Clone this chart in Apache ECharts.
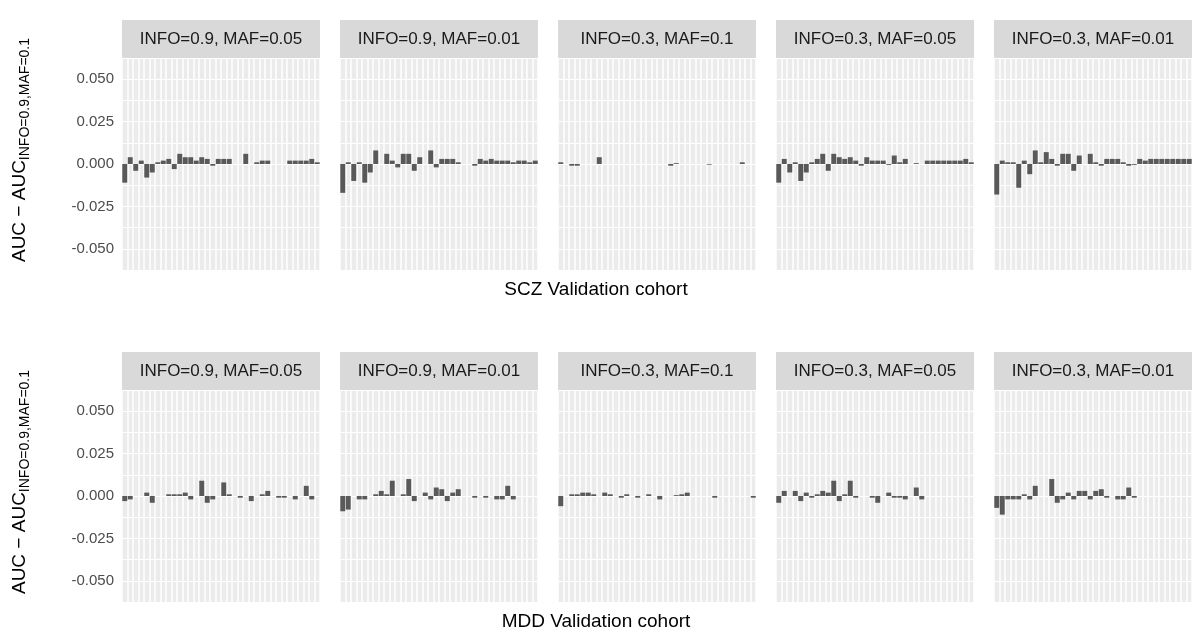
<!DOCTYPE html>
<html>
<head>
<meta charset="utf-8">
<script src="https://cdn.jsdelivr.net/npm/echarts@6/dist/echarts.min.js"></script>
<style>html,body{margin:0;background:#fff}#c{width:1192px;height:639px}</style>
</head>
<body>
<div id="c"></div>
<script>
"use strict";
var facets = ['INFO=0.9, MAF=0.05', 'INFO=0.9, MAF=0.01', 'INFO=0.3, MAF=0.1', 'INFO=0.3, MAF=0.05', 'INFO=0.3, MAF=0.01'];
var cohorts = ['SCZ Validation cohort', 'MDD Validation cohort'];
var yTicks = [-0.05, -0.025, 0, 0.025, 0.05];

var scz1 = [-0.011,0.004,-0.004,0.002,-0.008,-0.005,0.001,0.002,0.003,-0.003,0.006,0.004,0.004,0.002,0.004,0.003,-0.001,0.003,0.003,0.003,0,0,0.006,0,0.001,0.002,0.002,0,0,0,0.002,0.002,0.002,0.002,0.003,0.001];
var scz2 = [-0.017,0.001,-0.010,0.001,-0.011,-0.005,0.008,0,0.006,0.002,-0.002,0.006,0.006,-0.004,0.004,0,0.008,-0.002,0.003,0.003,0.003,0.001,0,0,-0.001,0.003,0.002,0.003,0.002,0.002,0.002,0.001,0.002,0.002,0.001,0.002];
var scz3 = [0.001,0,-0.001,-0.001,0,0,0,0.004,0,0,0,0,0,0,0,0,0,0,0,0,-0.001,0.0005,0,0,0,0,0,-0.0004,0,0,0,0,0,0.001,0,0];
var scz4 = [-0.011,0.003,-0.005,0.001,-0.010,-0.005,0.001,0.003,0.006,-0.004,0.006,0.004,0.003,0.004,0.002,-0.001,0.004,0.002,0.002,0.002,-0.0005,0.005,0.001,0.003,0,0.0005,0,0.002,0.002,0.002,0.002,0.002,0.002,0.002,0.003,0.001];
var scz5 = [-0.018,0.002,0.001,0.001,-0.014,0.002,-0.006,0.008,0.001,0.007,0.003,-0.001,0.006,0.006,-0.004,0.005,0,0.006,0.001,-0.001,0.003,0.003,0.003,0.001,-0.001,-0.0005,0.003,0.002,0.003,0.003,0.003,0.003,0.003,0.003,0.003,0.003];
var mdd1 = [-0.003,-0.002,0,0,0.002,-0.004,0,0,0.001,0.001,0.001,0.002,-0.002,0,0.009,-0.004,-0.002,0,0.008,0.001,0,-0.001,0,-0.003,0,0.001,0.003,0,-0.001,-0.001,0,-0.002,0,0.006,-0.002,0];
var mdd2 = [-0.009,-0.008,0,-0.002,-0.002,0,0.001,0.003,0.001,0.009,0,0.001,0.010,-0.003,0,0.002,-0.002,0.005,0.004,-0.003,0.002,0.004,0,0,-0.001,0,-0.001,0,-0.002,-0.002,0.006,-0.002,0,0,0,0];
var mdd3 = [-0.006,0,0.001,0.001,0.002,0.002,0.001,0,0.002,0.001,0,-0.001,0.001,0,-0.001,0,0.001,0,-0.002,0,0,0.0005,0.001,0.002,0,0,0,0,-0.001,0,0,0,0,0,0,-0.001];
var mdd4 = [-0.004,0.003,0,0.003,-0.003,0.002,-0.001,0.001,0.003,0.002,0.009,-0.003,0.001,0.009,-0.001,0,0,-0.001,-0.004,0,0.002,-0.001,-0.001,-0.002,0,0.005,-0.002,0,0,0,0,0,0,0,0,0];
var mdd5 = [-0.007,-0.011,-0.002,-0.002,-0.002,0.001,-0.002,0.006,0,0,0.010,-0.004,-0.002,0.002,-0.002,0.003,0.003,-0.002,0.003,0.004,-0.001,0,-0.002,-0.002,0.005,-0.001,0,0,0,0,0,0,0,0,0,0];
var rows = [[scz1, scz2, scz3, scz4, scz5], [mdd1, mdd2, mdd3, mdd4, mdd5]];

var lefts = [122, 340, 558, 776, 994];
var panelW = 198;
var rowTop = [58, 390];
var panelH = 212;
var stripH = 38;

var grids = [], xAxes = [], yAxes = [], series = [], graphics = [];
rows.forEach(function (row, r) {
  row.forEach(function (vals, f) {
    var i = grids.length;
    var cats = vals.map(function (v, k) { return String(k + 1); });
    grids.push({left: lefts[f], top: rowTop[r], width: panelW, height: panelH,
      show: true, backgroundColor: '#EBEBEB', borderWidth: 0});
    xAxes.push({type: 'category', gridIndex: i, data: cats,
      axisLine: {show: false}, axisTick: {show: false}, axisLabel: {show: false},
      splitLine: {show: true, interval: 0, lineStyle: {color: '#fff', width: 1.5}}});
    yAxes.push({type: 'value', gridIndex: i, min: -0.0625, max: 0.0625, interval: 0.0125,
      axisLine: {show: false},
      axisTick: {show: false},
      splitLine: {show: true, lineStyle: {color: '#fff', width: 1}},
      axisLabel: {show: f === 0, color: '#4D4D4D', fontSize: 15, margin: 8, fontFamily: 'Liberation Sans',
        formatter: function (v) {
          for (var t = 0; t < yTicks.length; t++) {
            if (Math.abs(v - yTicks[t]) < 1e-6) return yTicks[t].toFixed(3);
          }
          return '';
        }}});
    series.push({type: 'bar', xAxisIndex: i, yAxisIndex: i, data: vals,
      barCategoryGap: '10%', itemStyle: {color: '#595959'}, silent: true});
    graphics.push({type: 'rect', left: lefts[f], top: rowTop[r] - stripH,
      shape: {width: panelW, height: stripH}, style: {fill: '#D9D9D9'}});
    graphics.push({type: 'text', x: lefts[f] + panelW / 2, y: rowTop[r] - stripH / 2,
      style: {text: facets[f], fill: '#1A1A1A', fontSize: 17, fontFamily: 'Liberation Sans',
        align: 'center', verticalAlign: 'middle'}});
  });
  graphics.push({type: 'text', left: 'center', top: rowTop[r] + panelH + 10,
    style: {text: cohorts[r], fill: '#000', fontSize: 19, fontFamily: 'Liberation Sans'}});
  graphics.push({type: 'text', rotation: Math.PI / 2, x: 20, y: rowTop[r] - stripH + (panelH + stripH) / 2 + 5,
    style: {text: 'AUC − AUC{s|INFO=0.9,MAF=0.1}', fill: '#000', fontSize: 19, fontFamily: 'Liberation Sans',
      align: 'center', verticalAlign: 'middle',
      rich: {s: {fontSize: 14, fontFamily: 'Liberation Sans', fill: '#000', verticalAlign: 'bottom', padding: [10, 0, 0, 0]}}}});
});

var chart = echarts.init(document.getElementById('c'));
chart.setOption({
  animation: false,
  grid: grids, xAxis: xAxes, yAxis: yAxes, series: series, graphic: graphics
});
</script>
</body>
</html>
